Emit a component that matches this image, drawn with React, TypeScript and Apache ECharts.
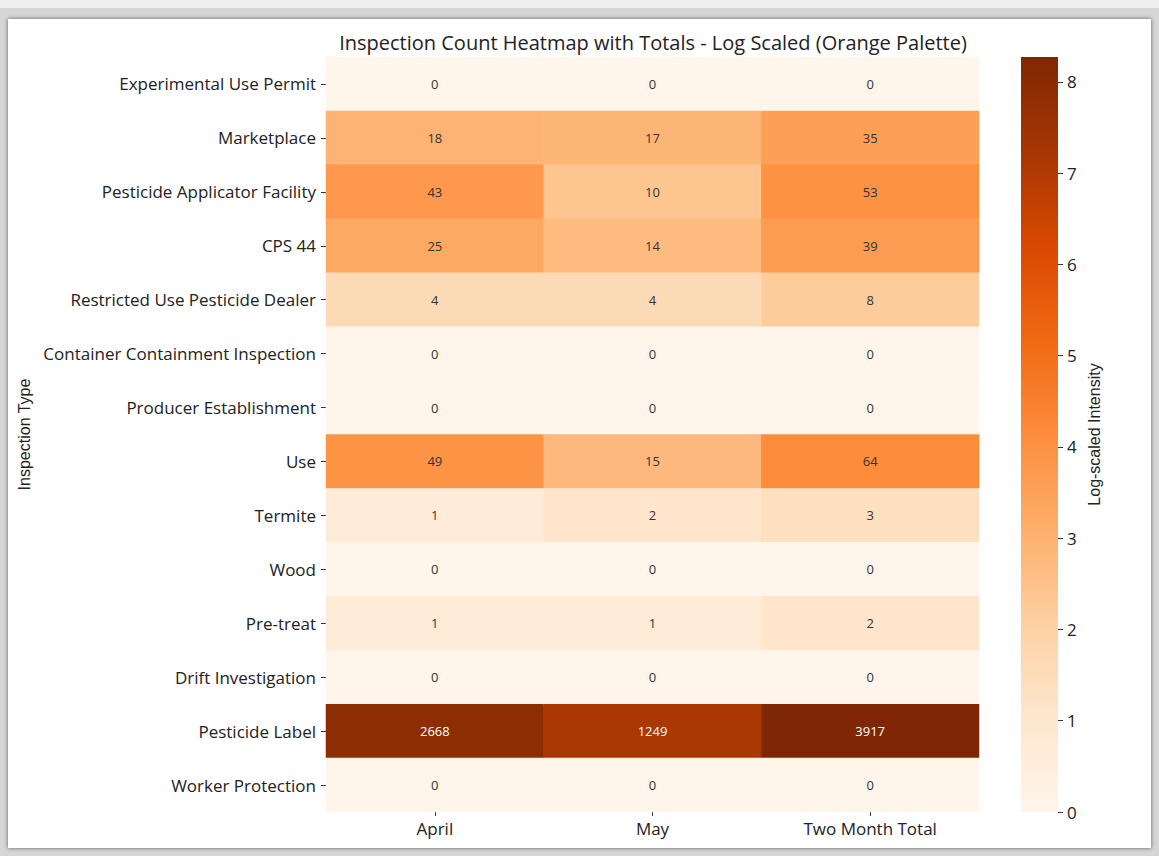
import React, { useEffect, useRef } from "react";
import * as echarts from "echarts";

const inspectionTypes = [
  "Experimental Use Permit",
  "Marketplace",
  "Pesticide Applicator Facility",
  "CPS 44",
  "Restricted Use Pesticide Dealer",
  "Container Containment Inspection",
  "Producer Establishment",
  "Use",
  "Termite",
  "Wood",
  "Pre-treat",
  "Drift Investigation",
  "Pesticide Label",
  "Worker Protection",
];
const columns = ["April", "May", "Two Month Total"];
const aprilCounts = [0, 18, 43, 25, 4, 0, 0, 49, 1, 0, 1, 0, 2668, 0];
const mayCounts = [0, 17, 10, 14, 4, 0, 0, 15, 2, 0, 1, 0, 1249, 0];
const totalCounts = [0, 35, 53, 39, 8, 0, 0, 64, 3, 0, 2, 0, 3917, 0];
const colorbarTicks = [0, 1, 2, 3, 4, 5, 6, 7, 8];

const orangesPalette = [
  "#fff5eb",
  "#fee6ce",
  "#fdd0a2",
  "#fdae6b",
  "#fd8d3c",
  "#f16913",
  "#d94801",
  "#a63603",
  "#7f2704",
];

const FONT = "'Open Sans', 'Noto Sans', sans-serif";
const TITLE_FONT = "'Liberation Sans', Arial, sans-serif";

export default function App() {
  const ref = useRef<HTMLDivElement>(null);

  useEffect(() => {
    if (!ref.current) return;
    const chart = echarts.init(ref.current, undefined, { renderer: "svg" });
    const allCols = [aprilCounts, mayCounts, totalCounts];
    const data: any[] = [];
    let maxLog = 0;
    allCols.forEach((col, ci) => {
      col.forEach((v, ri) => {
        const lv = Math.log1p(v);
        if (lv > maxLog) maxLog = lv;
        data.push({
          value: [ci, ri, lv, v],
          label: { color: lv > 6.5 ? "#ffffff" : "#333333" },
        });
      });
    });

    const n = orangesPalette.length;
    const gradStops = orangesPalette
      .slice()
      .reverse()
      .map((c, i) => ({ offset: i / (n - 1), color: c }));

    chart.setOption({
      animation: false,
      backgroundColor: "transparent",
      title: {
        text: "Inspection Count Heatmap with Totals - Log Scaled (Orange Palette)",
        left: 648,
        textAlign: "center",
        top: 27,
        textStyle: { fontFamily: FONT, fontSize: 20, fontWeight: "normal", color: "#222" },
      },
      grid: [
        { left: 326, top: 57, width: 653, height: 755 },
        { left: 1021, top: 57, width: 37, height: 755 },
      ],
      xAxis: [
        {
          type: "category",
          gridIndex: 0,
          data: columns,
          position: "bottom",
          axisLine: { show: false },
          axisTick: { show: true, alignWithLabel: true, length: 4, lineStyle: { color: "#333" } },
          axisLabel: { fontFamily: FONT, fontSize: 17, color: "#222", margin: 8 },
          splitLine: { show: false },
        },
        {
          type: "category",
          gridIndex: 1,
          data: [""],
          show: false,
        },
      ],
      yAxis: [
        {
          type: "category",
          gridIndex: 0,
          data: inspectionTypes,
          inverse: true,
          axisLine: { show: false },
          axisTick: { show: true, alignWithLabel: true, length: 5, lineStyle: { color: "#333" } },
          axisLabel: {
            fontFamily: FONT,
            fontSize: 17,
            color: "#222",
            margin: 10,
            padding: [0, 0, 3, 0],
          },
          name: "Inspection Type",
          nameLocation: "middle",
          nameGap: 286,
          nameTextStyle: { fontFamily: TITLE_FONT, fontSize: 16, color: "#222" },
        },
        {
          type: "value",
          gridIndex: 1,
          position: "right",
          min: 0,
          max: maxLog,
          interval: 1,
          axisLine: { show: false },
          axisTick: {
            show: true,
            length: 5,
            customValues: colorbarTicks,
            lineStyle: { color: "#333" },
          },
          axisLabel: {
            fontFamily: FONT,
            fontSize: 17,
            color: "#222",
            margin: 9,
            customValues: colorbarTicks,
          },
          splitLine: { show: false },
          name: "Log-scaled Intensity",
          nameLocation: "middle",
          nameRotate: 90,
          nameGap: 28,
          nameTextStyle: { fontFamily: TITLE_FONT, fontSize: 16, color: "#222" },
        },
      ],
      visualMap: {
        show: false,
        seriesIndex: 0,
        dimension: 2,
        min: 0,
        max: maxLog,
        inRange: { color: orangesPalette },
      },
      series: [
        {
          type: "heatmap",
          xAxisIndex: 0,
          yAxisIndex: 0,
          data,
          encode: { x: 0, y: 1 },
          label: {
            show: true,
            fontFamily: FONT,
            fontSize: 13,
            formatter: (p: any) => String(p.value[3]),
          },
          itemStyle: { borderWidth: 0 },
          emphasis: { disabled: true },
        },
        {
          type: "custom",
          xAxisIndex: 1,
          yAxisIndex: 1,
          data: [[0, maxLog]],
          renderItem: (params: any, api: any) => {
            const top = api.coord([0, api.value(1)]);
            const bottom = api.coord([0, 0]);
            const w = api.size([1, 0])[0];
            return {
              type: "rect",
              shape: { x: top[0] - w / 2, y: top[1], width: w, height: bottom[1] - top[1] },
              style: { fill: new echarts.graphic.LinearGradient(0, 0, 0, 1, gradStops) },
            };
          },
          silent: true,
        },
      ],
    });
    return () => chart.dispose();
  }, []);

  return (
    <div style={{ position: "fixed", left: 0, top: 0, width: 1159, height: 856, background: "#efefef" }}>
      <div style={{ position: "absolute", left: 0, top: 8, width: 1159, height: 848, background: "#d6d6d6" }} />
      <div
        style={{
          position: "absolute",
          left: 8,
          top: 19,
          width: 1143,
          height: 829,
          background: "#ffffff",
          boxShadow: "0 0 4px rgba(0,0,0,0.6)",
        }}
      />
      <div ref={ref} style={{ position: "absolute", left: 0, top: 0, width: 1159, height: 856 }} />
    </div>
  );
}
